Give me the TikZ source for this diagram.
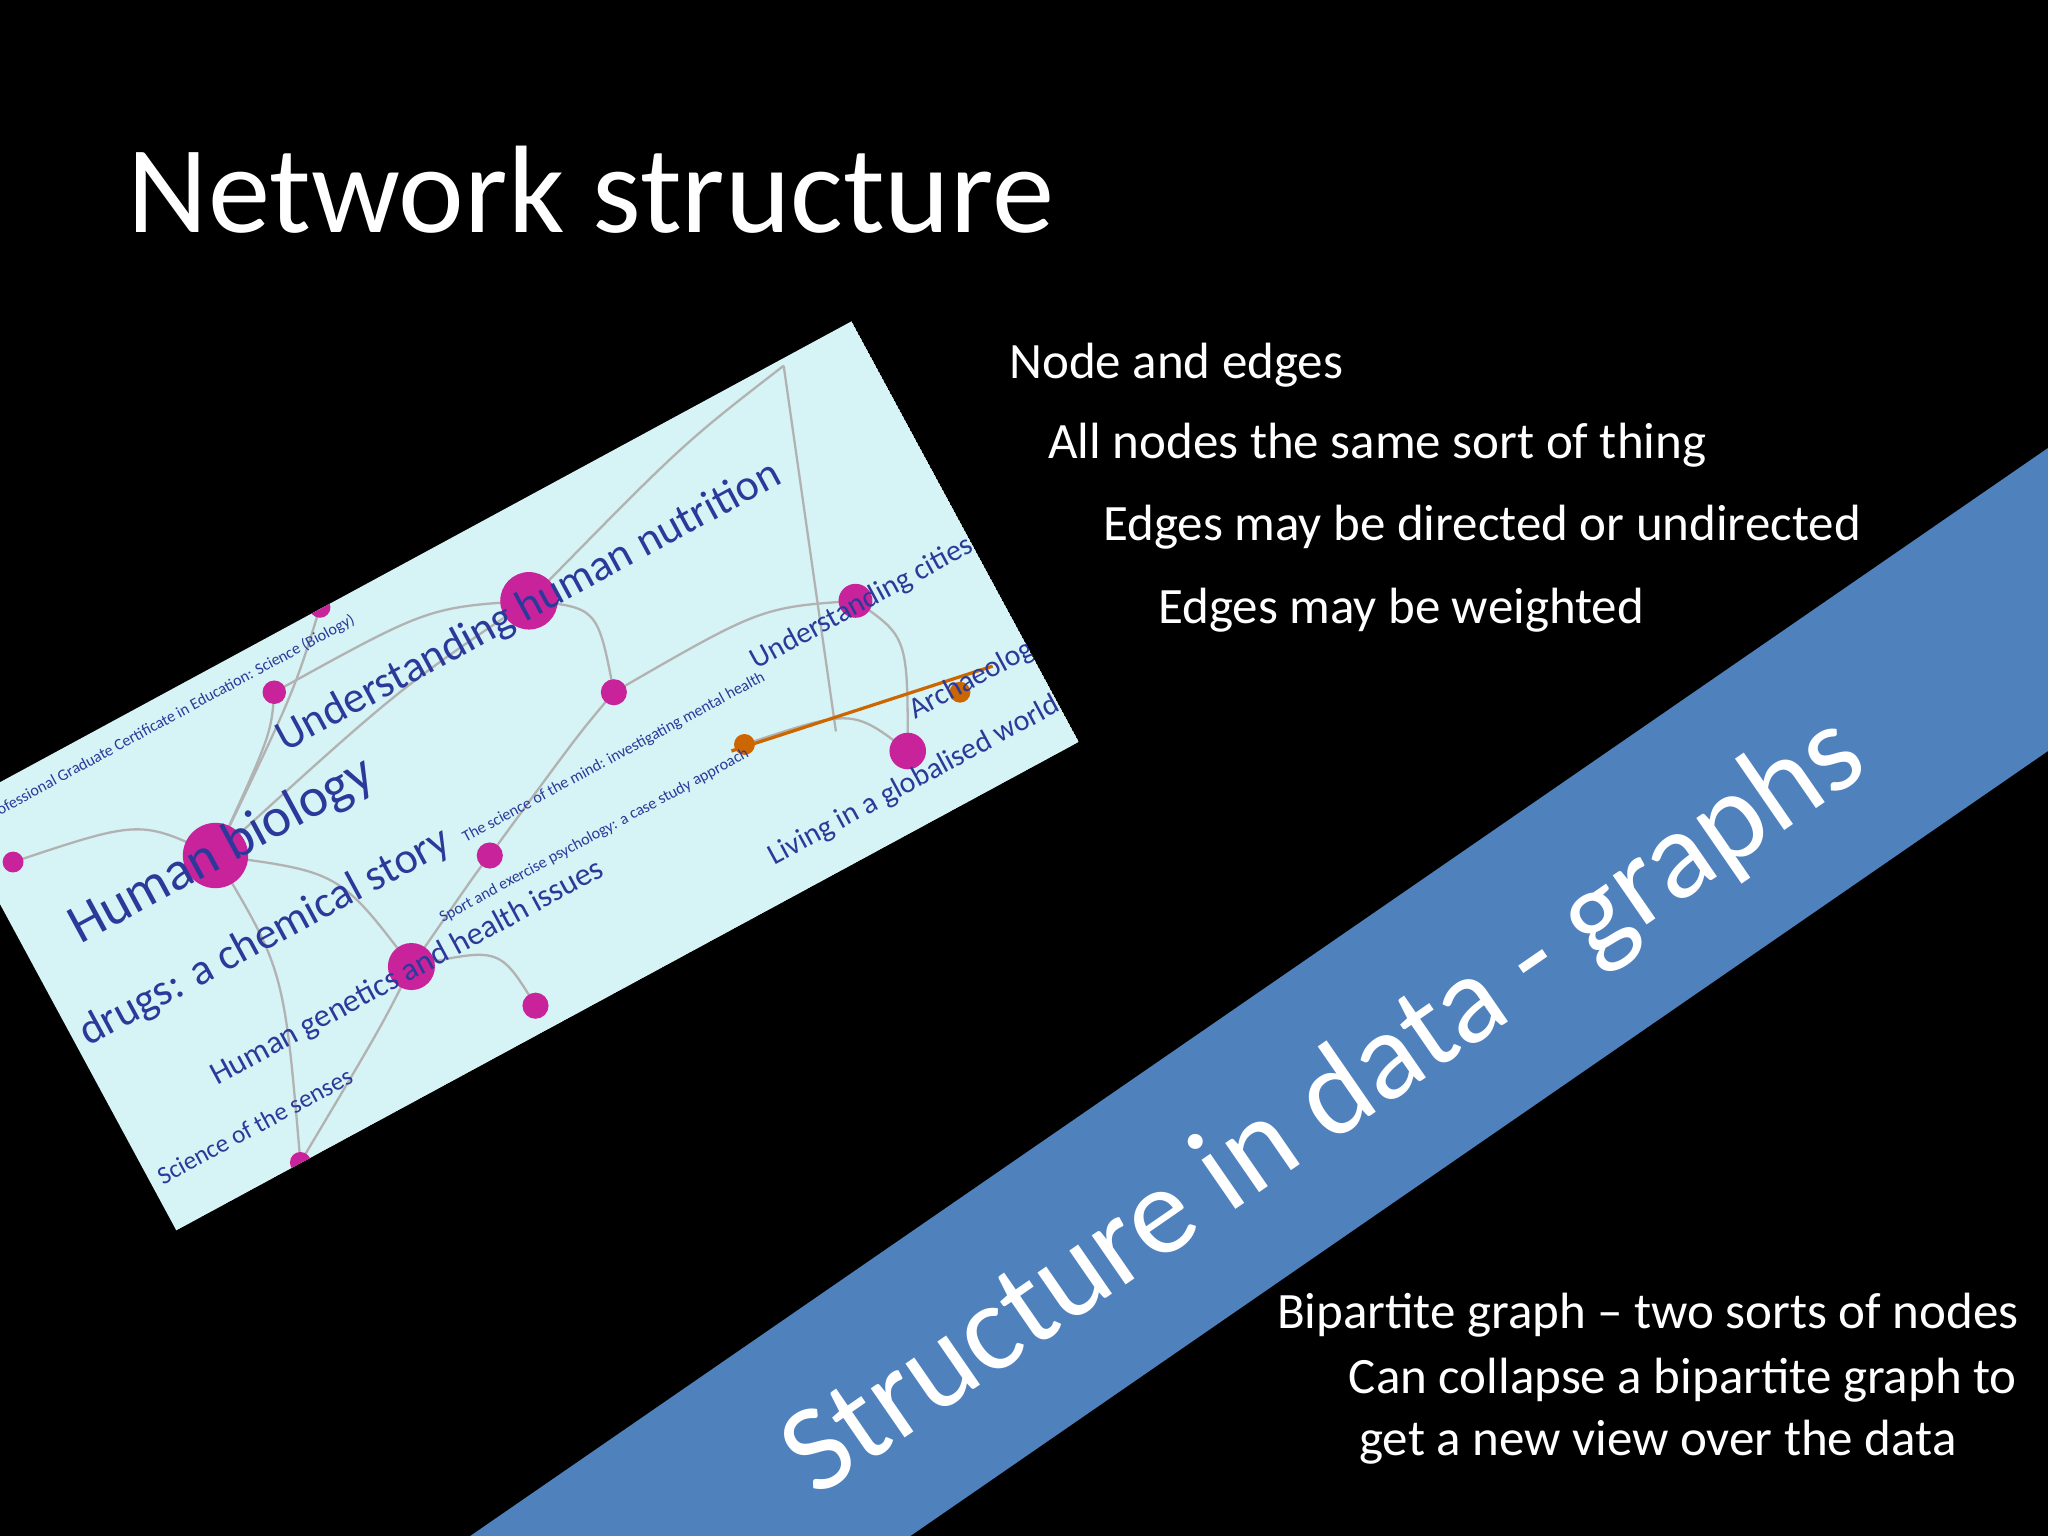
\documentclass[tikz,border=0pt]{standalone}
\usetikzlibrary{calc}
\usepackage{fontspec}
\setmainfont{Carlito}
\definecolor{band}{HTML}{4F81BD}
\definecolor{pic}{HTML}{D6F3F5}
\definecolor{lbl}{HTML}{2B3A9A}
\definecolor{dot}{HTML}{C8239A}
\begin{document}
\begin{tikzpicture}[x=0.01cm,y=-0.01cm,
  body/.style={text=white,anchor=base west,inner sep=0,font=\fontsize{11.1}{13}\selectfont},
  lab/.style={text=lbl,rotate=28.4,inner sep=0},
  edge/.style={draw=gray!60,line width=0.5pt}]
\fill[black] (0,0) rectangle (1568,1176);
\useasboundingbox (0,0) rectangle (1568,1176);
% band
\fill[band] (360,1176) -- (1568,343) -- (1568,575) -- (697,1176) -- cycle;
\node[text=white,rotate=34.6,inner sep=0,font=\fontsize{27.2}{30}\selectfont] (bt) at (1015,848) {Structure in data - graphs};
% picture
\begin{scope}
\clip (652,246) -- (826,568) -- (135,942) -- (-39,620) -- cycle;
\fill[pic] (652,246) -- (826,568) -- (135,942) -- (-39,620) -- cycle;
\foreach \a/\b in {{165,655}/{405,460},{165,655}/{315,740},{405,460}/{470,530},{470,530}/{655,460},{315,740}/{375,655},{375,655}/{470,530},{165,655}/{210,530},{210,530}/{405,460},{410,770}/{315,740},{655,460}/{695,575},{570,570}/{695,575},{10,660}/{165,655},{245,465}/{165,655},{165,655}/{230,890},{315,740}/{230,890},{405,460}/{600,280}}
  \draw[edge] (\a) .. controls ($(\a)!0.5!(\b)+(20,-30)$) .. (\b);
\draw[edge] (600,280) -- (640,560);
\draw[draw=orange!80!black,line width=0.7pt] (560,575) -- (760,510);
\foreach \p/\r in {{165,655}/25,{405,460}/22,{315,740}/18,{655,460}/13,{695,575}/14,{470,530}/10,{375,655}/10,{410,770}/10,{210,530}/9,{10,660}/8,{245,465}/8,{230,890}/8}
  \fill[dot] (\p) circle (\r);
\fill[orange!80!black] (570,570) circle (8) (735,530) circle (8);
\node[lab,font=\fontsize{12}{13}\selectfont] (l1) at (170,652) {Human biology};
\node[lab,font=\fontsize{9.6}{11}\selectfont] (l2) at (405,465) {Understanding human nutrition};
\node[lab,font=\fontsize{9.6}{11}\selectfont] (l3) at (203,718) {drugs: a chemical story};
\node[lab,font=\fontsize{7}{8}\selectfont] (l4) at (312,745) {Human genetics and health issues};
\node[lab,font=\fontsize{6.5}{7}\selectfont] (l5) at (700,598) {Living in a globalised world};
\node[lab,font=\fontsize{6.5}{7}\selectfont] (l6) at (660,462) {Understanding cities};
\node[lab,font=\fontsize{6.5}{7}\selectfont] (l7) at (768,508) {Archaeology: the};
\node[lab,font=\fontsize{5.5}{6}\selectfont] (l8) at (195,862) {Science of the senses};
\node[lab,font=\fontsize{3.5}{4}\selectfont] (l9) at (470,580) {The science of the mind: investigating mental health};
\node[lab,font=\fontsize{3.5}{4}\selectfont] (l10) at (130,550) {Professional Graduate Certificate in Education: Science (Biology)};
\node[lab,font=\fontsize{3.5}{4}\selectfont] (l11) at (455,640) {Sport and exercise psychology: a case study approach};
\end{scope}
% texts
\node[text=white,anchor=base west,inner sep=0,font=\fontsize{27.1}{30}\selectfont] (title) at (97,178) {Network structure};
\node[body] (t1) at (772,290) {Node and edges};
\node[body] (t2) at (802,351) {All nodes the same sort of thing};
\node[body] (t3) at (844,414) {Edges may be directed or undirected};
\node[body] (t4) at (886,477) {Edges may be weighted};
\node[body] (t5) at (977,1017) {Bipartite graph – two sorts of nodes};
\node[body] (t6) at (1032,1067) {Can collapse a bipartite graph to};
\node[body] (t7) at (1040,1114) {get a new view over the data};
\end{tikzpicture}
\end{document}
